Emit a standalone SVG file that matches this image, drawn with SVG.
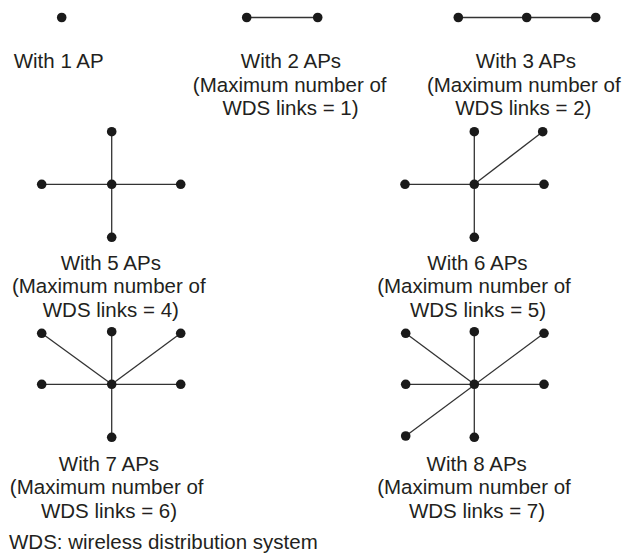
<svg xmlns="http://www.w3.org/2000/svg" width="625" height="559" viewBox="0 0 625 559">
<style>
.bg{fill:#fff}
.dot{fill:#1a1a1a}
.ln{stroke:#333;stroke-width:1.3;fill:none}
.t{font-family:"Liberation Sans",Arial,sans-serif;font-size:20.5px;fill:#231f20;text-anchor:middle}
.f{font-family:"Liberation Sans",Arial,sans-serif;font-size:20.5px;fill:#231f20}
</style>
<rect class="bg" x="0" y="0" width="625" height="559"/>
<g id="connectors">
  <line class="ln" x1="246.7" y1="17.5" x2="317.7" y2="17.5"/>
  <line class="ln" x1="458.3" y1="17.5" x2="595.7" y2="17.5"/>
  <line class="ln" x1="41.7" y1="184.3" x2="180.7" y2="184.3"/>
  <line class="ln" x1="111.7" y1="131.7" x2="111.7" y2="237.3"/>
  <line class="ln" x1="405" y1="184.3" x2="544" y2="184.3"/>
  <line class="ln" x1="474.3" y1="131.7" x2="474.3" y2="237.3"/>
  <line class="ln" x1="474.3" y1="184.3" x2="542.7" y2="131.7"/>
  <line class="ln" x1="41.7" y1="384.3" x2="180.7" y2="384.3"/>
  <line class="ln" x1="111.7" y1="331.7" x2="111.7" y2="437.3"/>
  <line class="ln" x1="41.7" y1="333.3" x2="111.7" y2="384.3"/>
  <line class="ln" x1="180.7" y1="333.3" x2="111.7" y2="384.3"/>
  <line class="ln" x1="405.7" y1="384.3" x2="544" y2="384.3"/>
  <line class="ln" x1="474.3" y1="331.7" x2="474.3" y2="437.3"/>
  <line class="ln" x1="405.7" y1="333.3" x2="474.3" y2="384.3"/>
  <line class="ln" x1="544" y1="333.3" x2="405.7" y2="436"/>
</g>
<g id="ap1">
  <circle class="dot" cx="61.7" cy="17.5" r="4.8"/>
  <text class="t" x="58.7" y="68">With 1 AP</text>
</g>
<g id="ap2">
  <circle class="dot" cx="246.7" cy="17.5" r="4.8"/>
  <circle class="dot" cx="317.7" cy="17.5" r="4.8"/>
  <text class="t" x="291" y="68">With 2 APs</text>
  <text class="t" x="289.7" y="91.5">(Maximum number of</text>
  <text class="t" x="290.5" y="115">WDS links = 1)</text>
</g>
<g id="ap3">
  <circle class="dot" cx="458.3" cy="17.5" r="4.8"/>
  <circle class="dot" cx="526.7" cy="17.5" r="4.8"/>
  <circle class="dot" cx="595.7" cy="17.5" r="4.8"/>
  <text class="t" x="526" y="68">With 3 APs</text>
  <text class="t" x="523.8" y="91.5">(Maximum number of</text>
  <text class="t" x="523.3" y="115">WDS links = 2)</text>
</g>
<g id="ap5">
  <circle class="dot" cx="111.7" cy="184.3" r="4.8"/>
  <circle class="dot" cx="111.7" cy="131.7" r="4.8"/>
  <circle class="dot" cx="111.7" cy="237.3" r="4.8"/>
  <circle class="dot" cx="41.7" cy="184.3" r="4.8"/>
  <circle class="dot" cx="180.7" cy="184.3" r="4.8"/>
  <text class="t" x="110.8" y="269.8">With 5 APs</text>
  <text class="t" x="108.8" y="293.2">(Maximum number of</text>
  <text class="t" x="110.8" y="316.5">WDS links = 4)</text>
</g>
<g id="ap6">
  <circle class="dot" cx="474.3" cy="184.3" r="4.8"/>
  <circle class="dot" cx="474.3" cy="131.7" r="4.8"/>
  <circle class="dot" cx="542.7" cy="131.7" r="4.8"/>
  <circle class="dot" cx="405" cy="184.3" r="4.8"/>
  <circle class="dot" cx="544" cy="184.3" r="4.8"/>
  <circle class="dot" cx="474.3" cy="237.3" r="4.8"/>
  <text class="t" x="477.5" y="269.8">With 6 APs</text>
  <text class="t" x="474" y="293.2">(Maximum number of</text>
  <text class="t" x="478" y="316.5">WDS links = 5)</text>
</g>
<g id="ap7">
  <circle class="dot" cx="111.7" cy="384.3" r="4.8"/>
  <circle class="dot" cx="111.7" cy="331.7" r="4.8"/>
  <circle class="dot" cx="41.7" cy="333.3" r="4.8"/>
  <circle class="dot" cx="180.7" cy="333.3" r="4.8"/>
  <circle class="dot" cx="41.7" cy="384.3" r="4.8"/>
  <circle class="dot" cx="180.7" cy="384.3" r="4.8"/>
  <circle class="dot" cx="111.7" cy="437.3" r="4.8"/>
  <text class="t" x="109" y="470.8">With 7 APs</text>
  <text class="t" x="106.7" y="494.2">(Maximum number of</text>
  <text class="t" x="109" y="517.5">WDS links = 6)</text>
</g>
<g id="ap8">
  <circle class="dot" cx="474.3" cy="384.3" r="4.8"/>
  <circle class="dot" cx="405.7" cy="333.3" r="4.8"/>
  <circle class="dot" cx="474.3" cy="331.7" r="4.8"/>
  <circle class="dot" cx="544" cy="333.3" r="4.8"/>
  <circle class="dot" cx="405.7" cy="384.3" r="4.8"/>
  <circle class="dot" cx="544" cy="384.3" r="4.8"/>
  <circle class="dot" cx="405.7" cy="436" r="4.8"/>
  <circle class="dot" cx="474.3" cy="437.3" r="4.8"/>
  <text class="t" x="476.7" y="470.8">With 8 APs</text>
  <text class="t" x="474" y="494.2">(Maximum number of</text>
  <text class="t" x="477" y="517.5">WDS links = 7)</text>
</g>
<g id="legend">
  <text class="f" x="9" y="548.5">WDS: wireless distribution system</text>
</g>
</svg>
